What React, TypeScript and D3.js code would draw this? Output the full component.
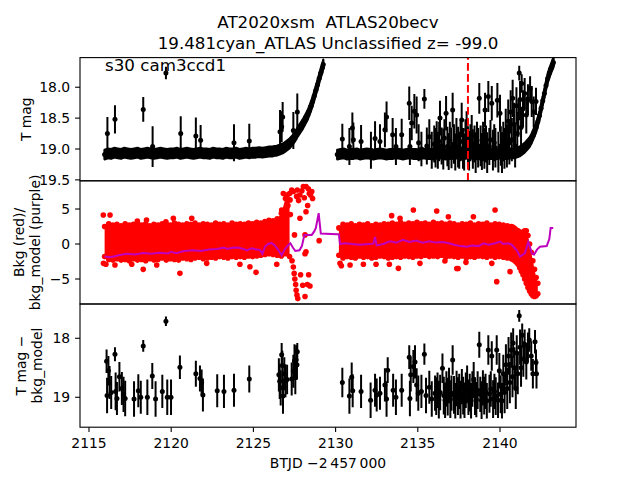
import React from "react";
import * as d3 from "d3";

const TITLE1 = "AT2020xsm  ATLAS20becv";
const TITLE2 = "19.481cyan_ATLAS Unclassified z= -99.0";
const SECTOR_LABEL = "s30 cam3ccd1";
const X_LABEL = "BTJD \u22122\u2009457\u2009000";
const X_TICKS = [2115, 2120, 2125, 2130, 2135, 2140];
const Y1_TICKS = [18.0, 18.5, 19.0, 19.5];
const Y2_TICKS = [5, 0, -5];
const Y3_TICKS = [18, 19];
const DISCOVERY_DATE = 2138.05;
const BAND_ERR = 0.08;

// Top panel: dense baseline band, orbit 1 (time, T mag)
const topBand1: [number, number][] = [
  [2115.95,19.09],[2116.15,19.07],[2116.35,19.08],[2116.55,19.06],[2116.75,19.07],[2116.95,19.08],[2117.15,19.06],[2117.35,19.07],
  [2117.55,19.08],[2117.75,19.07],[2117.95,19.06],[2118.15,19.08],[2118.35,19.07],[2118.55,19.06],[2118.75,19.07],[2118.95,19.08],
  [2119.15,19.07],[2119.35,19.06],[2119.55,19.07],[2119.75,19.08],[2119.95,19.07],[2120.15,19.07],[2120.35,19.06],[2120.55,19.08],
  [2120.75,19.07],[2120.95,19.06],[2121.15,19.07],[2121.35,19.08],[2121.55,19.07],[2121.75,19.06],[2121.95,19.07],[2122.15,19.07],
  [2122.35,19.08],[2122.55,19.06],[2122.75,19.07],[2122.95,19.07],[2123.15,19.08],[2123.35,19.06],[2123.55,19.07],[2123.75,19.07],
  [2123.95,19.06],[2124.15,19.08],[2124.35,19.07],[2124.55,19.06],[2124.75,19.07],[2124.95,19.06],[2125.15,19.06],[2125.35,19.05],
  [2125.55,19.06],[2125.75,19.05],[2125.95,19.04],[2126.15,19.04],
  [2126.3,19.03],[2126.4,19.03],[2126.5,19.02],[2126.6,19.01],[2126.7,19.0],[2126.8,18.99],[2126.9,18.97],[2127.0,18.95],
  [2127.1,18.93],[2127.2,18.91],[2127.3,18.88],[2127.4,18.85],[2127.5,18.81],[2127.6,18.77],[2127.7,18.72],[2127.8,18.68],
  [2127.9,18.64],[2128.0,18.6],[2128.1,18.55],[2128.2,18.5],[2128.3,18.45],[2128.4,18.38],[2128.5,18.31],[2128.6,18.23],
  [2128.7,18.14],[2128.8,18.05],[2128.9,17.96],[2129.0,17.86],[2129.1,17.77],[2129.2,17.68],[2129.25,17.63],
];

// Top panel: dense baseline band, orbit 2
const topBand2: [number, number][] = [
  [2130.1,19.09],[2130.3,19.08],[2130.5,19.07],[2130.7,19.09],[2130.9,19.08],[2131.1,19.08],[2131.3,19.07],[2131.5,19.09],
  [2131.7,19.08],[2131.9,19.07],[2132.1,19.08],[2132.3,19.09],[2132.5,19.08],[2132.7,19.07],[2132.9,19.08],[2133.1,19.09],
  [2133.3,19.08],[2133.5,19.08],[2133.7,19.07],[2133.9,19.08],[2134.1,19.09],[2134.3,19.08],[2134.5,19.07],[2134.7,19.08],
  [2134.9,19.08],[2135.1,19.09],[2135.3,19.07],[2135.5,19.08],[2135.7,19.08],[2135.9,19.09],[2136.1,19.08],[2136.3,19.07],
  [2136.5,19.08],[2136.7,19.09],[2136.9,19.08],[2137.1,19.08],[2137.3,19.07],[2137.5,19.08],[2137.7,19.09],[2137.9,19.08],
  [2138.1,19.07],[2138.3,19.08],[2138.5,19.08],[2138.7,19.09],[2138.9,19.08],[2139.1,19.07],[2139.3,19.08],[2139.5,19.08],
  [2139.7,19.09],[2139.9,19.08],[2140.1,19.07],[2140.3,19.08],[2140.5,19.08],[2140.7,19.07],[2140.9,19.07],
  [2141.0,19.06],[2141.1,19.05],[2141.2,19.04],[2141.3,19.02],[2141.4,19.0],[2141.5,18.98],[2141.6,18.95],[2141.7,18.92],
  [2141.8,18.89],[2141.9,18.84],[2142.0,18.78],[2142.1,18.72],[2142.2,18.65],[2142.3,18.56],[2142.4,18.46],[2142.5,18.34],
  [2142.6,18.22],[2142.7,18.1],[2142.8,17.97],[2142.9,17.86],[2143.0,17.77],[2143.1,17.7],[2143.2,17.63],[2143.25,17.6],
];

// Top panel: noisy points with large error bars (time, T mag, err)
const topErr: [number, number, number][] = [
  [2116.12,18.75,0.27],[2116.58,18.52,0.23],[2118.3,18.36,0.2],[2118.87,18.96,0.33],[2119.68,17.77,0.1],
  [2120.58,18.75,0.28],[2121.5,18.79,0.3],[2121.79,18.86,0.25],[2123.82,18.9,0.3],[2124.75,18.87,0.28],
  [2126.62,18.72,0.35],[2126.72,18.64,0.25],[2126.78,18.48,0.24],[2127.43,18.7,0.3],[2127.67,18.4,0.3],
  [2130.41,18.84,0.25],[2130.84,18.96,0.3],[2131.02,18.66,0.25],[2131.08,18.85,0.28],[2131.55,18.88,0.27],
  [2132.15,19.02,0.3],[2132.4,18.83,0.28],[2132.7,18.88,0.28],[2133.0,18.69,0.28],[2133.1,18.48,0.25],
  [2133.47,18.77,0.27],[2133.67,18.96,0.3],[2134.02,18.77,0.26],[2134.48,18.26,0.27],[2134.52,18.96,0.3],
  [2134.63,18.58,0.28],[2134.79,18.39,0.28],[2134.93,18.45,0.3],[2135.05,18.9,0.3],[2135.22,19.0,0.28],
  [2135.4,18.19,0.16],[2135.55,18.95,0.3],[2135.7,18.8,0.28],[2135.85,19.02,0.3],
  [2136.0,18.92,0.3],[2136.08,18.98,0.32],[2136.15,18.85,0.3],[2136.22,19.02,0.3],[2136.3,18.88,0.32],
  [2136.35,18.5,0.28],[2136.45,18.95,0.3],[2136.55,19.0,0.33],[2136.62,18.82,0.3],[2136.72,18.42,0.28],
  [2136.8,18.96,0.32],[2136.88,19.04,0.3],[2136.95,18.86,0.3],[2137.05,18.98,0.33],[2137.12,18.37,0.28],
  [2137.2,18.92,0.32],[2137.28,19.05,0.3],[2137.35,18.8,0.3],[2137.45,18.97,0.33],[2137.52,19.02,0.3],
  [2137.6,18.88,0.32],[2137.67,18.53,0.28],[2137.75,18.99,0.33],[2137.82,19.05,0.3],[2137.9,18.84,0.32],
  [2137.97,18.69,0.3],[2138.05,18.96,0.33],[2138.12,19.03,0.32],[2138.2,18.9,0.3],[2138.28,18.78,0.33],
  [2138.35,19.0,0.32],[2138.45,18.92,0.3],[2138.52,19.06,0.33],[2138.6,18.86,0.3],[2138.67,18.98,0.32],
  [2138.74,18.18,0.25],[2138.82,18.95,0.33],[2138.9,19.04,0.3],[2138.97,18.88,0.32],[2139.05,18.99,0.33],
  [2139.09,18.37,0.28],[2139.15,18.92,0.3],[2139.22,19.06,0.33],[2139.29,18.15,0.25],[2139.35,18.96,0.3],
  [2139.42,18.85,0.32],[2139.5,18.26,0.28],[2139.57,19.02,0.33],[2139.65,18.9,0.3],[2139.72,18.98,0.32],
  [2139.84,18.21,0.28],[2139.9,19.05,0.33],[2140.0,18.42,0.3],[2140.05,18.95,0.32],[2140.12,19.06,0.33],
  [2140.2,18.88,0.32],[2140.27,18.99,0.33],[2140.35,18.7,0.35],[2140.42,18.95,0.35],[2140.5,18.55,0.35],
  [2140.57,18.9,0.35],[2140.65,18.4,0.35],[2140.72,18.85,0.35],[2140.77,18.18,0.3],[2140.85,18.6,0.35],
  [2140.92,18.95,0.35],[2141.0,18.3,0.3],[2141.05,18.75,0.35],[2141.12,18.5,0.3],[2141.17,17.77,0.12],
  [2141.22,18.2,0.3],[2141.28,18.65,0.3],[2141.32,17.94,0.15],[2141.4,18.35,0.3],[2141.5,18.1,0.25],
  [2141.6,18.45,0.3],[2141.7,18.2,0.25],[2141.83,18.02,0.2],[2141.93,18.23,0.25],[2142.05,18.4,0.25],
  [2142.19,18.23,0.22],
];

// Middle panel: background scatter envelope (time, upper, lower)
const bkgBand1: [number, number, number][] = [
  [2115.95,2.5,-1.8],[2116.2,2.9,-2.2],[2116.45,2.7,-2.3],[2116.7,2.8,-2.1],[2116.95,2.6,-2.3],[2117.2,2.9,-2.2],
  [2117.45,2.7,-2.4],[2117.7,2.8,-2.1],[2117.95,3.0,-2.3],[2118.2,2.7,-2.2],[2118.45,2.9,-2.4],[2118.7,2.6,-2.1],
  [2118.95,2.8,-2.3],[2119.2,2.7,-2.2],[2119.45,2.9,-2.0],[2119.7,2.8,-2.3],[2119.95,2.7,-2.1],[2120.2,3.0,-2.2],
  [2120.45,2.8,-2.3],[2120.7,2.7,-2.0],[2120.95,2.9,-2.1],[2121.2,2.8,-2.2],[2121.45,3.0,-2.0],[2121.7,2.7,-1.9],
  [2121.95,2.9,-2.1],[2122.2,2.8,-2.0],[2122.45,2.7,-1.9],[2122.7,3.0,-2.0],[2122.95,2.8,-1.8],[2123.2,2.9,-1.9],
  [2123.45,2.7,-2.0],[2123.7,3.0,-1.8],[2123.95,2.8,-1.9],[2124.2,2.9,-1.8],[2124.45,2.8,-1.9],[2124.7,3.0,-1.7],
  [2124.95,2.9,-1.8],[2125.2,3.1,-1.7],[2125.45,3.0,-1.6],[2125.7,3.2,-1.5],[2125.95,3.4,-1.4],[2126.2,3.3,-1.5],
  [2126.45,3.6,-1.6],[2126.7,4.4,-1.7],[2126.95,6.5,-1.4],[2127.2,7.2,-1.8],
];
const bkgBand2: [number, number, number][] = [
  [2130.2,2.3,-1.6],[2130.45,2.8,-2.0],[2130.7,2.7,-1.8],[2130.95,2.9,-1.9],[2131.2,2.6,-2.0],[2131.45,2.8,-1.7],
  [2131.7,2.7,-1.9],[2131.95,2.9,-1.8],[2132.2,2.6,-2.0],[2132.45,2.8,-1.9],[2132.7,2.7,-1.7],[2132.95,2.9,-1.8],
  [2133.2,2.8,-2.0],[2133.45,3.0,-1.9],[2133.7,2.8,-1.8],[2133.95,3.1,-1.9],[2134.2,2.8,-1.7],[2134.45,3.0,-1.8],
  [2134.7,2.9,-1.9],[2134.95,3.1,-1.7],[2135.2,2.9,-1.8],[2135.45,3.0,-1.6],[2135.7,2.8,-1.8],[2135.95,3.1,-1.7],
  [2136.2,2.9,-1.8],[2136.45,3.0,-1.6],[2136.7,2.8,-1.9],[2136.95,3.0,-1.7],[2137.2,2.9,-1.8],[2137.45,2.7,-1.9],
  [2137.7,2.9,-1.7],[2137.95,2.8,-2.0],[2138.2,3.0,-1.8],[2138.45,2.7,-1.9],[2138.7,2.9,-1.7],[2138.95,2.8,-1.8],
  [2139.2,3.0,-1.9],[2139.45,2.7,-1.7],[2139.7,2.9,-1.9],[2139.95,2.8,-1.8],[2140.2,2.7,-1.9],[2140.45,2.6,-2.0],
  [2140.7,2.5,-2.1],[2140.8,2.4,-2.2],[2140.9,2.2,-2.4],[2141.0,2.0,-2.6],[2141.1,1.9,-2.9],[2141.2,1.7,-3.4],
  [2141.3,1.6,-3.9],[2141.4,1.7,-4.4],[2141.5,1.9,-5.0],[2141.6,1.9,-5.6],[2141.7,1.2,-6.2],[2141.8,0.0,-6.7],
  [2141.9,-1.2,-7.1],[2142.0,-2.4,-7.4],[2142.1,-3.6,-7.5],[2142.2,-4.8,-7.4],[2142.3,-5.6,-7.1],
];

// Middle panel: isolated background points (time, value)
const bkgDots: [number, number][] = [
  [2115.87,4.14],[2116.28,4.14],[2115.88,-2.76],[2116.03,-2.9],[2116.58,-3.0],[2117.6,-2.9],[2118.3,-3.62],
  [2117.94,3.29],[2118.5,3.43],[2119.12,-3.0],[2119.68,3.19],[2120.13,3.67],[2120.53,-4.19],[2121.25,3.67],
  [2122.16,-2.76],[2124.18,-2.9],[2124.79,-3.24],[2125.16,-4.05],[2126.42,-2.9],[2126.72,4.86],
  [2126.82,7.2],[2127.02,7.0],[2127.23,6.3],[2127.33,7.7],[2127.43,7.5],[2127.63,6.8],[2127.67,7.7],
  [2127.83,7.0],[2128.04,8.2],[2128.2,8.2],[2128.34,7.9],[2128.4,7.2],[2128.48,7.0],[2128.6,6.5],
  [2127.75,6.2],[2127.95,7.6],[2128.1,6.6],[2128.55,7.5],[2128.3,5.5],[2127.1,5.5],[2127.25,4.2],[2127.0,3.6],
  [2127.83,3.67],[2128.2,4.6],[2128.14,1.3],[2128.2,-1.1],[2128.14,-1.4],[2127.5,1.3],
  [2127.35,-2.4],[2127.43,-3.3],[2127.48,-4.2],[2127.52,-5.0],[2127.57,-5.8],[2127.6,-6.6],[2127.65,-7.3],
  [2127.7,-7.8],[2127.87,-4.4],[2128.0,-5.9],[2128.14,-7.5],[2128.28,-5.8],[2128.36,-4.4],[2128.44,-6.0],
  [2129.0,0.48],
  [2130.27,-2.76],[2130.35,-3.1],[2130.88,-3.0],[2131.69,-2.9],[2132.46,-2.9],[2133.27,-2.9],[2133.41,4.05],
  [2133.82,-3.48],[2133.92,3.67],[2134.73,4.86],[2135.13,-2.76],[2136.15,4.71],[2136.65,-2.43],[2136.86,3.9],
  [2137.37,-3.5],[2137.45,-3.5],[2137.93,-2.62],[2138.38,3.9],[2139.5,-2.76],[2139.7,4.86],[2139.8,-5.38],
  [2140.61,-3.95],
];

// Middle panel: background model (time, value)
const bkgModel: [number, number][] = [
  [2115.95,-1.8],[2116.3,-1.9],[2116.8,-1.6],[2117.3,-1.4],[2117.8,-1.5],[2118.3,-1.3],[2118.8,-1.4],
  [2119.3,-1.25],[2119.8,-1.35],[2120.0,-1.1],[2120.3,-1.3],[2120.8,-1.0],[2121.3,-0.9],[2121.8,-1.0],
  [2122.3,-0.8],[2122.8,-0.7],[2123.2,-0.5],[2123.4,-0.7],[2123.8,-0.5],[2124.1,-0.55],[2124.4,-0.7],
  [2124.6,-0.9],[2124.9,-0.6],[2125.2,-0.8],[2125.4,-0.85],[2125.55,-1.4],[2125.7,-0.4],[2125.9,0.0],
  [2126.1,0.15],[2126.3,-0.2],[2126.5,-0.8],[2126.72,-1.6],[2126.9,-0.8],[2127.1,-0.2],[2127.25,0.1],
  [2127.4,-0.5],[2127.55,-1.0],[2127.8,-0.9],[2127.95,-0.3],[2128.1,1.3],[2128.3,1.3],[2128.55,1.3],
  [2128.7,1.8],[2128.8,2.3],[2128.97,4.4],[2129.1,1.5],[2130.07,1.4],[2130.2,1.4],[2130.27,0.0],
  [2130.6,0.1],[2131.0,0.0],[2131.5,-0.1],[2132.0,0.0],[2132.3,0.05],[2132.4,1.0],[2132.5,-0.2],
  [2132.9,0.0],[2133.3,0.4],[2133.7,0.2],[2134.1,0.6],[2134.5,0.3],[2134.9,0.5],[2135.3,0.2],
  [2135.7,0.4],[2136.1,0.2],[2136.5,0.3],[2136.9,0.1],[2137.2,-0.1],[2137.6,-0.3],[2137.97,-0.4],
  [2138.3,-0.2],[2138.7,-0.3],[2139.0,0.1],[2139.3,-0.1],[2139.7,0.1],[2140.0,0.35],[2140.2,0.0],
  [2140.5,0.1],[2140.71,-0.1],[2141.02,-0.9],[2141.22,-1.8],[2141.35,-1.6],[2141.52,-1.3],[2141.72,0.3],
  [2141.85,-0.6],[2141.93,-1.3],[2142.07,-1.5],[2142.25,-0.8],[2142.43,-0.4],[2142.84,-0.3],[2143.0,0.7],
  [2143.08,2.3],[2143.24,2.3],
];

// Bottom panel: T mag - bkg_model (time, mag, err)
const diffErr: [number, number, number][] = [
  [2116.07,18.39,0.2],[2116.1,18.97,0.3],[2116.18,18.55,0.25],[2116.25,18.75,0.28],[2116.35,18.92,0.28],
  [2116.58,18.27,0.12],[2116.62,18.9,0.32],[2116.7,19.02,0.28],[2116.85,18.65,0.25],[2117.0,18.85,0.28],
  [2117.1,18.95,0.3],[2117.2,19.02,0.3],[2117.74,19.03,0.3],[2118.0,18.89,0.28],[2118.15,19.0,0.28],
  [2118.3,18.13,0.1],[2118.55,19.0,0.3],[2118.85,18.64,0.22],[2119.05,19.03,0.3],[2119.46,18.9,0.28],
  [2119.68,17.71,0.08],[2119.76,19.0,0.3],[2119.99,19.0,0.3],[2120.53,18.49,0.2],[2121.5,18.6,0.22],
  [2121.75,18.68,0.22],[2121.85,18.75,0.22],[2121.93,18.96,0.28],[2122.8,18.89,0.28],[2123.21,18.9,0.28],
  [2123.82,18.88,0.28],[2124.75,18.69,0.23],[2126.55,18.62,0.28],[2126.6,18.73,0.3],[2126.66,18.84,0.3],
  [2126.72,18.28,0.2],[2126.76,18.46,0.25],[2126.8,18.98,0.3],[2126.88,18.6,0.28],[2126.95,18.72,0.28],
  [2127.05,18.7,0.25],[2127.33,18.69,0.28],[2127.43,18.56,0.28],[2127.5,18.38,0.28],[2127.55,18.67,0.28],
  [2127.6,18.37,0.25],[2127.65,18.45,0.25],[2127.67,18.23,0.15],
  [2130.41,18.75,0.25],[2130.84,18.98,0.3],[2130.98,18.66,0.25],[2131.04,18.89,0.28],[2131.55,18.9,0.28],
  [2132.13,19.05,0.3],[2132.4,18.88,0.28],[2132.5,18.96,0.28],[2132.7,18.93,0.28],[2133.0,18.79,0.28],
  [2133.1,19.03,0.3],[2133.17,18.54,0.22],[2133.5,18.88,0.28],[2133.67,19.0,0.3],[2134.02,18.88,0.28],
  [2134.48,18.32,0.2],[2134.52,19.02,0.3],[2134.57,18.62,0.28],[2134.73,18.48,0.28],[2134.83,18.4,0.28],
  [2134.93,18.79,0.28],[2135.03,18.93,0.3],[2135.22,18.9,0.28],[2135.4,18.27,0.18],[2135.5,18.97,0.3],
  [2135.7,18.83,0.28],[2135.85,19.03,0.3],[2136.05,18.93,0.3],
  [2136.12,18.98,0.32],[2136.2,18.88,0.3],[2136.28,19.04,0.32],[2136.36,18.92,0.3],[2136.5,18.51,0.25],
  [2136.58,18.97,0.32],[2136.66,19.05,0.3],[2136.74,18.86,0.3],[2136.82,18.99,0.32],[2136.9,18.8,0.3],
  [2136.98,19.03,0.32],[2137.05,18.93,0.3],[2137.12,18.37,0.25],[2137.2,18.96,0.32],[2137.28,19.06,0.3],
  [2137.36,18.85,0.3],[2137.44,18.98,0.32],[2137.52,18.9,0.3],[2137.6,19.04,0.32],[2137.68,18.82,0.3],
  [2137.76,18.97,0.32],[2137.84,19.05,0.3],[2137.92,18.88,0.3],[2138.0,18.78,0.32],[2138.08,19.0,0.3],
  [2138.16,18.92,0.32],[2138.24,19.06,0.3],[2138.32,18.86,0.3],[2138.4,18.7,0.3],[2138.48,18.98,0.32],
  [2138.56,19.04,0.3],[2138.64,18.88,0.32],[2138.74,18.11,0.22],[2138.8,18.95,0.3],[2138.88,19.05,0.32],
  [2138.96,18.84,0.3],[2139.04,18.97,0.32],[2139.12,18.9,0.3],[2139.2,19.06,0.3],[2139.29,18.2,0.25],
  [2139.36,18.94,0.32],[2139.44,18.86,0.3],[2139.5,18.3,0.25],[2139.58,19.03,0.32],[2139.66,18.9,0.3],
  [2139.74,18.98,0.32],[2139.8,18.2,0.25],[2139.88,19.05,0.3],[2139.96,18.55,0.3],[2140.04,18.95,0.32],
  [2140.12,19.06,0.3],[2140.2,18.6,0.32],[2140.28,18.92,0.35],[2140.36,18.45,0.35],[2140.44,18.85,0.35],
  [2140.52,18.3,0.32],[2140.6,18.75,0.35],[2140.68,18.2,0.3],[2140.76,18.65,0.35],[2140.8,18.08,0.25],
  [2140.88,18.5,0.35],[2140.96,18.85,0.35],[2141.02,18.25,0.3],[2141.08,18.6,0.35],[2141.17,17.62,0.1],
  [2141.22,18.15,0.3],[2141.28,18.5,0.32],[2141.35,17.95,0.2],[2141.42,18.35,0.3],[2141.5,18.1,0.25],
  [2141.6,18.4,0.3],[2141.7,18.15,0.25],[2141.78,18.03,0.2],[2141.9,18.3,0.25],[2142.0,18.6,0.25],
  [2142.13,18.06,0.2],[2142.19,18.41,0.22],[2142.22,18.6,0.25],
];

const FONT = "'DejaVu Sans', sans-serif";
const LEFT = 80, RIGHT = 576;
const PANELS = [57.6, 180.8, 304, 427.2];

export default function App() {
  const x = d3.scaleLinear().domain([2114.453, 2144.623]).range([LEFT, RIGHT]);
  const y1 = d3.scaleLinear().domain([17.52, 19.515]).range([PANELS[0], PANELS[1]]);
  const y2 = d3.scaleLinear().domain([9.03, -8.57]).range([PANELS[1], PANELS[2]]);
  const y3 = d3.scaleLinear().domain([17.419, 19.507]).range([PANELS[2], PANELS[3]]);

  const errGroup = (pts: [number, number, number][], y: d3.ScaleLinear<number, number>, r: number) => (
    <g>
      {pts.map(([t, m, e], i) => (
        <line key={"l" + i} x1={x(t)} x2={x(t)} y1={y(m - e)} y2={y(m + e)} stroke="#000" strokeWidth={2} />
      ))}
      {pts.map(([t, m], i) => (
        <circle key={"c" + i} cx={x(t)} cy={y(m)} r={r} fill="#000" />
      ))}
    </g>
  );

  const band1 = topBand1.map(([t, m]) => [t, m, BAND_ERR] as [number, number, number]);
  const band2 = topBand2.map(([t, m]) => [t, m, BAND_ERR] as [number, number, number]);
  const bandArea = d3
    .area<[number, number, number]>()
    .x((d) => x(d[0]))
    .y0((d) => y1(d[1] + d[2]))
    .y1((d) => y1(d[1] - d[2]));

  const area = d3
    .area<[number, number, number]>()
    .x((d) => x(d[0]))
    .y0((d) => y2(d[2]))
    .y1((d) => y2(d[1]));
  const line = d3
    .line<[number, number]>()
    .x((d) => x(d[0]))
    .y((d) => y2(d[1]));

  const envPts: [number, number][] = [];
  [...bkgBand1, ...bkgBand2].forEach(([t, hi, lo]) => {
    envPts.push([t, hi]);
    envPts.push([t, lo]);
  });

  const f1 = d3.format(".1f");
  const fInt = d3.format("d");
  const yAxis = (ticks: number[], y: d3.ScaleLinear<number, number>, fmt: (n: number) => string) => (
    <g>
      {ticks.map((v, i) => (
        <g key={i}>
          <line x1={LEFT - 4.9} x2={LEFT} y1={y(v)} y2={y(v)} stroke="#000" strokeWidth={1.1} />
          <text x={LEFT - 9.8} y={y(v)} dy="0.36em" textAnchor="end" fontSize={13.9} fontFamily={FONT}>
            {fmt(v)}
          </text>
        </g>
      ))}
    </g>
  );

  const ph = (k: number) => PANELS[k + 1] - PANELS[k];

  return (
    <svg width={640} height={480} style={{ position: "absolute", left: 0, top: 0, background: "#fff" }}>
      <rect x={0} y={0} width={640} height={480} fill="#fff" />
      <defs>
        {[0, 1, 2].map((k) => (
          <clipPath id={"clip" + k} key={k}>
            <rect x={LEFT} y={PANELS[k]} width={RIGHT - LEFT} height={ph(k)} />
          </clipPath>
        ))}
      </defs>

      <text x={328} y={27.5} textAnchor="middle" fontSize={16.7} fontFamily={FONT} style={{ whiteSpace: "pre" }}>
        {TITLE1}
      </text>
      <text x={328} y={48.5} textAnchor="middle" fontSize={16.7} fontFamily={FONT} style={{ whiteSpace: "pre" }}>
        {TITLE2}
      </text>

      {/* Panel 1 */}
      <g clipPath="url(#clip0)">
        <path d={bandArea(band1) || ""} fill="#000" stroke="#000" strokeWidth={2} strokeLinejoin="round" />
        <path d={bandArea(band2) || ""} fill="#000" stroke="#000" strokeWidth={2} strokeLinejoin="round" />
        {errGroup([...band1, ...band2], y1, 2.5)}
        {errGroup(topErr, y1, 2.5)}
        <line
          x1={x(DISCOVERY_DATE)}
          x2={x(DISCOVERY_DATE)}
          y1={PANELS[1]}
          y2={PANELS[0]}
          stroke="#ff0000"
          strokeWidth={2}
          strokeDasharray="7.7,3.3"
        />
      </g>
      <text x={105} y={70.5} fontSize={16.7} fontFamily={FONT}>
        {SECTOR_LABEL}
      </text>

      {/* Panel 2 */}
      <g clipPath="url(#clip1)">
        <path d={area(bkgBand1) || ""} fill="#ff0000" />
        <path d={area(bkgBand2) || ""} fill="#ff0000" />
        {envPts.map(([t, v], i) => (
          <circle key={"e" + i} cx={x(t)} cy={y2(v)} r={2.8} fill="#ff0000" />
        ))}
        {bkgDots.map(([t, v], i) => (
          <circle key={"d" + i} cx={x(t)} cy={y2(v)} r={2.8} fill="#ff0000" />
        ))}
        <path d={line(bkgModel) || ""} fill="none" stroke="#bf00bf" strokeWidth={2} />
      </g>

      {/* Panel 3 */}
      <g clipPath="url(#clip2)">{errGroup(diffErr, y3, 2.5)}</g>

      {/* frames */}
      {[0, 1, 2].map((k) => (
        <rect key={k} x={LEFT} y={PANELS[k]} width={RIGHT - LEFT} height={ph(k)} fill="none" stroke="#000" strokeWidth={1.1} />
      ))}

      {yAxis(Y1_TICKS, y1, f1)}
      {yAxis(Y2_TICKS, y2, fInt)}
      {yAxis(Y3_TICKS, y3, fInt)}

      {X_TICKS.map((v, i) => (
        <g key={i}>
          <line x1={x(v)} x2={x(v)} y1={PANELS[3]} y2={PANELS[3] + 4.9} stroke="#000" strokeWidth={1.1} />
          <text x={x(v)} y={448.4} textAnchor="middle" fontSize={13.9} fontFamily={FONT}>
            {fInt(v)}
          </text>
        </g>
      ))}
      <text x={328} y={468.3} textAnchor="middle" fontSize={13.9} fontFamily={FONT}>
        {X_LABEL}
      </text>

      <text transform={`translate(30.5,119.2) rotate(-90)`} textAnchor="middle" fontSize={13.9} fontFamily={FONT}>
        T mag
      </text>
      <text transform={`translate(23.5,242.4) rotate(-90)`} textAnchor="middle" fontSize={13.9} fontFamily={FONT}>
        Bkg (red)/
      </text>
      <text transform={`translate(39.7,242.4) rotate(-90)`} textAnchor="middle" fontSize={13.9} fontFamily={FONT}>
        bkg_model (purple)
      </text>
      <text transform={`translate(25.5,365.6) rotate(-90)`} textAnchor="middle" fontSize={13.9} fontFamily={FONT}>
        {"T mag \u2212"}
      </text>
      <text transform={`translate(42,365.6) rotate(-90)`} textAnchor="middle" fontSize={13.9} fontFamily={FONT}>
        bkg_model
      </text>
    </svg>
  );
}
